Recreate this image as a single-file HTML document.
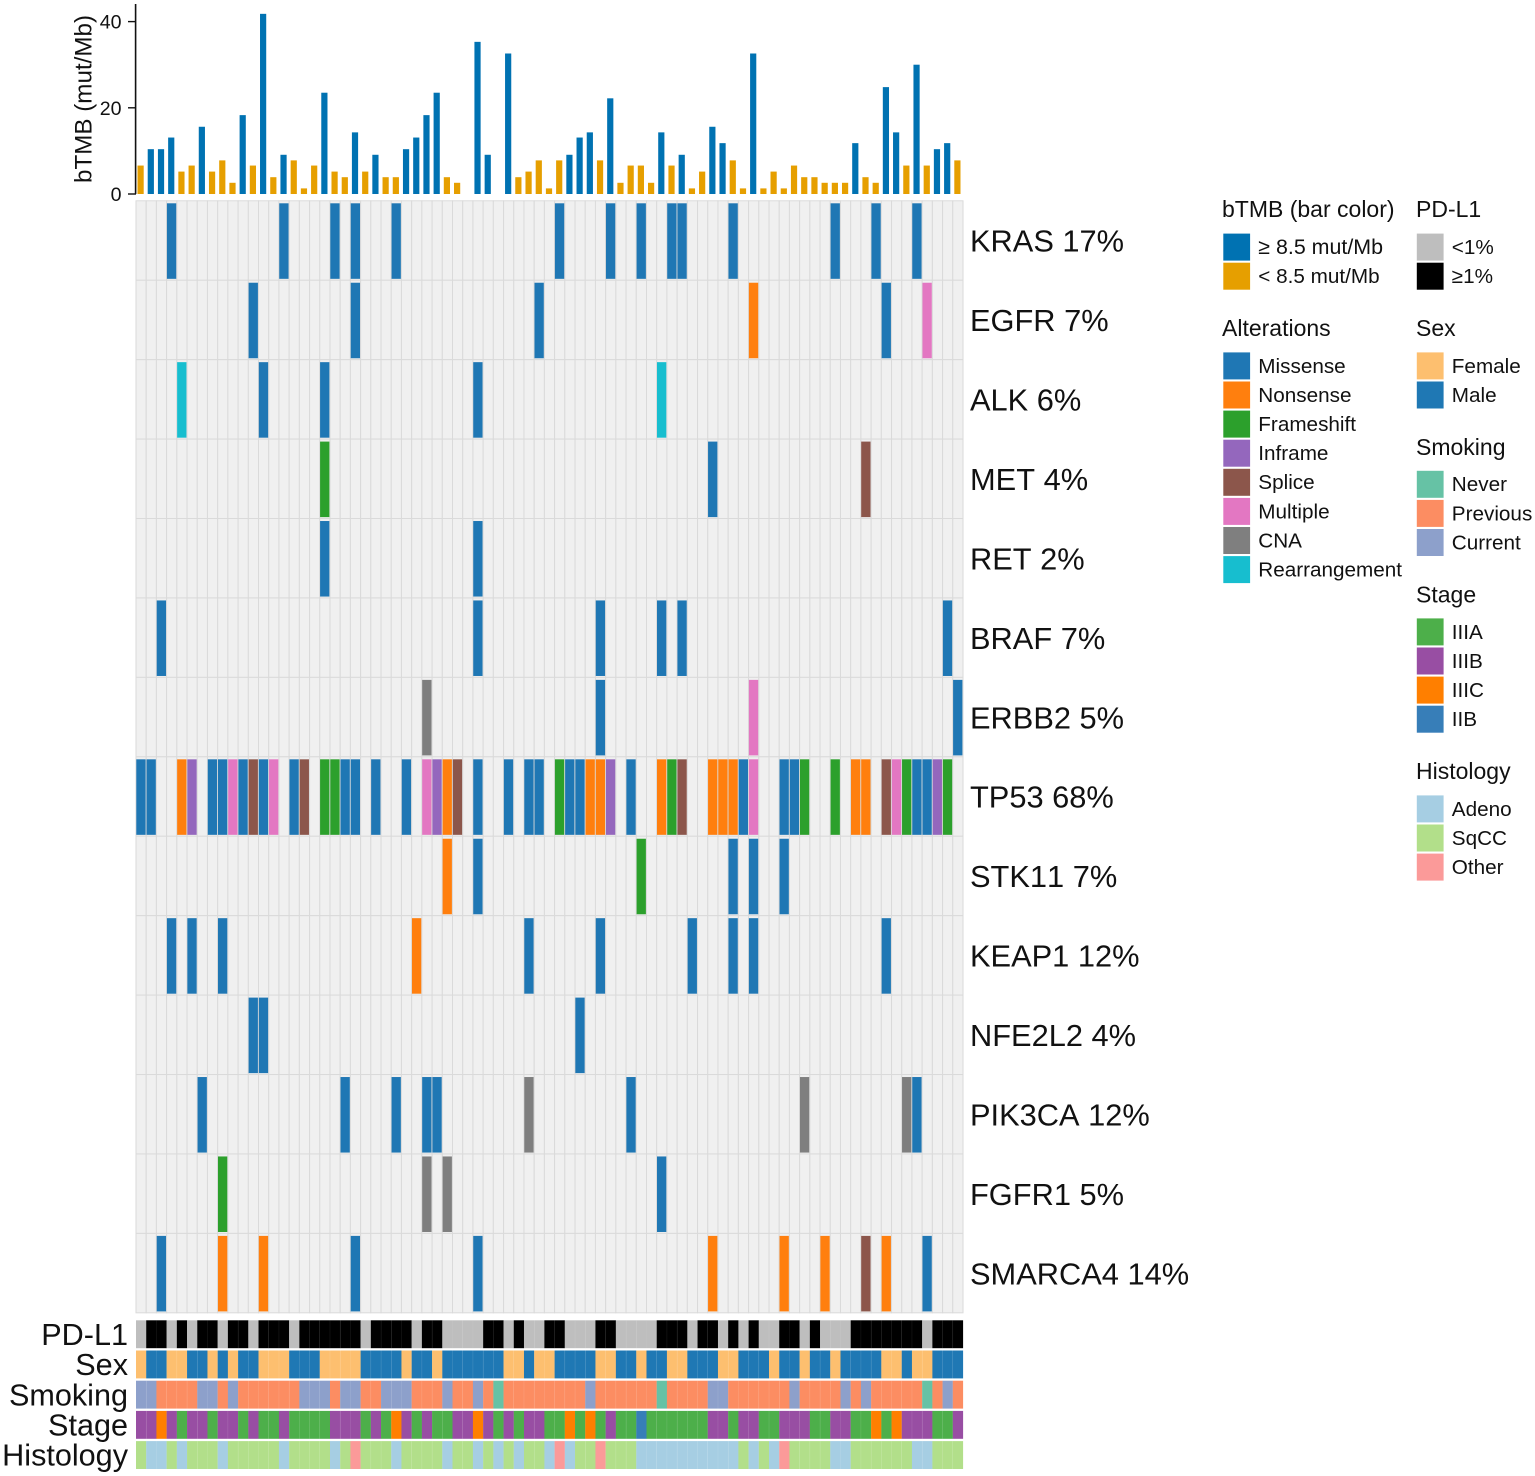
<!DOCTYPE html>
<html lang="en">
<head>
<meta charset="utf-8">
<title>Oncoprint of bTMB and gene alterations</title>
<style>
html,body{margin:0;padding:0;background:#fff;}
#chart{display:block;width:1535px;height:1476px;filter:blur(0.35px);}
text{font-family:"Liberation Sans",sans-serif;fill:#111;font-kerning:none;}
</style>
</head>
<body>
<svg id="chart" xmlns="http://www.w3.org/2000/svg" width="1535" height="1476" viewBox="0 0 1535 1476"></svg>
<script>
// ---------- bTMB bar data (mut/Mb), one value per sample ----------
const tmbValues = [6.6,10.4,10.4,13.1,5.2,6.6,15.6,5.2,7.8,2.6,
  18.3,6.6,41.8,3.9,9.1,7.8,1.3,6.6,23.5,5.2,
  3.9,14.3,5.2,9.1,3.9,3.9,10.4,13.1,18.3,23.5,
  3.9,2.6,0,35.3,9.1,0,32.6,3.9,5.2,7.8,
  1.3,7.8,9.1,13.1,14.3,7.8,22.2,2.6,6.6,6.6,
  2.6,14.3,6.6,9.1,1.3,5.2,15.6,11.8,7.8,1.3,
  32.6,1.3,5.2,1.3,6.6,3.9,3.9,2.6,2.6,2.6,
  11.8,3.9,2.6,24.8,14.3,6.6,30,6.6,10.4,11.8,7.8];
const tmbTicks = [0,20,40];
const tmbThreshold = 8.5;

// ---------- gene alterations: [sample index, alteration type] ----------
const M='Missense',N='Nonsense',F='Frameshift',I='Inframe',S='Splice',U='Multiple',C='CNA',R='Rearrangement';
const geneNames = ['KRAS','EGFR','ALK','MET','RET','BRAF','ERBB2','TP53','STK11','KEAP1','NFE2L2','PIK3CA','FGFR1','SMARCA4'];
const genePercents = [17,7,6,4,2,7,5,68,7,12,4,12,5,14];
const altKRAS = [[3,M],[14,M],[19,M],[21,M],[25,M],[41,M],[46,M],[49,M],[52,M],[53,M],[58,M],[68,M],[72,M],[76,M]];
const altEGFR = [[11,M],[21,M],[39,M],[60,N],[73,M],[77,U]];
const altALK = [[4,R],[12,M],[18,M],[33,M],[51,R]];
const altMET = [[18,F],[56,M],[71,S]];
const altRET = [[18,M],[33,M]];
const altBRAF = [[2,M],[33,M],[45,M],[51,M],[53,M],[79,M]];
const altERBB2 = [[28,C],[45,M],[60,U],[80,M]];
const altTP53 = [[0,M],[1,M],[4,N],[5,I],[7,M],[8,M],[9,U],[10,M],[11,S],[12,M],[13,U],[15,M],[16,S],[18,F],[19,F],[20,M],[21,M],[23,M],[26,M],[28,U],[29,I],[30,N],[31,S],[33,M],[36,M],[38,M],[39,M],
  [41,F],[42,M],[43,M],[44,N],[45,N],[46,I],[48,M],[51,N],[52,F],[53,S],[56,N],[57,N],[58,N],[59,M],[60,U],[63,M],[64,M],[65,F],[68,F],[70,N],[71,N],[73,S],[74,U],[75,F],[76,M],[77,M],[78,I],[79,F]];
const altSTK11 = [[30,N],[33,M],[49,F],[58,M],[60,M],[63,M]];
const altKEAP1 = [[3,M],[5,M],[8,M],[27,N],[38,M],[45,M],[54,M],[58,M],[60,M],[73,M]];
const altNFE2L2 = [[11,M],[12,M],[43,M]];
const altPIK3CA = [[6,M],[20,M],[25,M],[28,M],[29,M],[38,C],[48,M],[65,C],[75,C],[76,M]];
const altFGFR1 = [[8,F],[28,C],[30,C],[51,M]];
const altSMARCA4 = [[2,M],[8,N],[12,N],[21,M],[33,M],[56,N],[63,N],[67,N],[71,S],[73,N],[77,M]];
const geneAlterations = [altKRAS,altEGFR,altALK,altMET,altRET,altBRAF,altERBB2,altTP53,altSTK11,altKEAP1,altNFE2L2,altPIK3CA,altFGFR1,altSMARCA4];

// ---------- clinical annotation tracks, one code per sample ----------
const trackNames = ['PD-L1','Sex','Smoking','Stage','Histology'];
const trackPDL1 = ('0110101101'+'1011101111'+'1101111011'+'0000110100'+'1100011000'+'0111011010'+'1001101000'+'11111110111').split('');
const trackSex = ('FMMFFMMFMF'+'MMFFFMMMFF'+'FFMMMMFMMF'+'MMMMMMFFMF'+'FMMMMFFMMF'+'MMFFMMMFFM'+'MMFMMFMMFM'+'MMMFFMFFMMM').split('');
const trackSmoking = ('CCPPPPCCPC'+'PPPPPPCCCP'+'CCPPCCCPPP'+'CPPCPNPPPP'+'PPPPCPPPPP'+'PNPPPPCCPP'+'PPPPCPPPPC'+'PCPPPPPNPCP').split('');
const trackStage = ('BBCBABBABB'+'ABAABAAAAB'+'BBABACBABA'+'ABBCBABABB'+'AACACABAAD'+'AAAAAABBAB'+'BAABBBAABB'+'AACACBBBAAB').split('');
const trackHistology = ('SAASASSSAS'+'SSSSASSSSA'+'SOSSSASSSS'+'ASSASASASS'+'AOASSOSSSA'+'AAAAAAAAAS'+'ASAOSSSSAA'+'SSSSSSAASSS').split('');
const trackValues = [trackPDL1,trackSex,trackSmoking,trackStage,trackHistology];

// ---------- colours ----------
const alterationColors = {Missense:'#1f77b4',Nonsense:'#ff7f0e',Frameshift:'#2ca02c',Inframe:'#9467bd',Splice:'#8c564b',Multiple:'#e377c2',CNA:'#7f7f7f',Rearrangement:'#17becf'};
const tmbHighColor = '#0072b2';
const tmbLowColor = '#e69f00';
const trackColors = [
  {'0':'#bebebe','1':'#000000'},
  {F:'#fdbf6f',M:'#1f78b4'},
  {N:'#66c2a5',P:'#fc8d62',C:'#8da0cb'},
  {A:'#4daf4a',B:'#984ea3',C:'#ff7f00',D:'#377eb8'},
  {A:'#a6cee3',S:'#b2df8a',O:'#fb9a99'}
];

// ---------- axis functions ----------
const sampleCount = tmbValues.length;
const plotLeft = 136, plotRight = 963;
const colW = (plotRight - plotLeft) / sampleCount;
function xScale(i){ return plotLeft + colW * i; }
const tmbZero = 194, tmbUnit = 4.31;
function yTmb(v){ return tmbZero - v * tmbUnit; }
const rowTop = 200.8, rowH = 79.43;
function yGene(r){ return rowTop + rowH * r; }
const trackTop = 1320.3, trackPitch = 30.2, trackH = 27.9;
function yTrack(r){ return trackTop + trackPitch * r; }

const NS = 'http://www.w3.org/2000/svg';
const svg = document.getElementById('chart');
function mk(tag, attrs, parent){
  const el = document.createElementNS(NS, tag);
  for (const k in attrs) el.setAttribute(k, attrs[k]);
  (parent || svg).appendChild(el);
  return el;
}
function slug(s){ return String(s).toLowerCase().replace(/[^a-z0-9]+/g,'-').replace(/^-|-$/g,''); }

// ---------- bTMB panel ----------
const tmbAxisLine = mk('line',{x1:135.6,x2:135.6,y1:4,y2:tmbZero,stroke:'#111','stroke-width':1.6});


tmbTicks.forEach(function(t){
  const tick = mk('line',{x1:128,x2:136,y1:yTmb(t),y2:yTmb(t),stroke:'#111','stroke-width':1.4});
  
  
  const lab = mk('text',{x:121.5,y:yTmb(t)+7,'text-anchor':'end','font-size':19.6});
  lab.textContent = t;
  
  
});
const tmbTitle = mk('text',{transform:'translate(91.5,99) rotate(-90)','text-anchor':'middle','font-size':24.2});
tmbTitle.textContent = 'bTMB (mut/Mb)';


tmbValues.forEach(function(v,i){
  if (v <= 0) return;
  const bar = mk('rect',{x:xScale(i)+1.5,y:yTmb(v),width:6.2,height:tmbZero-yTmb(v),fill:v>=tmbThreshold?tmbHighColor:tmbLowColor});
  
  
});

// ---------- alteration heatmap ----------
geneNames.forEach(function(g,r){
  for (let i=0;i<sampleCount;i++){
    const cell = mk('rect',{x:xScale(i),y:yGene(r),width:colW,height:rowH,fill:'#f0f0f0',stroke:'#dadada','stroke-width':1});
    
    
  }
});
geneNames.forEach(function(g,r){
  geneAlterations[r].forEach(function(a){
    const mark = mk('rect',{x:xScale(a[0])+0.3,y:yGene(r)+2.5,width:colW-0.9,height:rowH-3.9,fill:alterationColors[a[1]]});
    
    
  });
  const lab = mk('text',{x:970,y:yGene(r)+rowH/2+11.2,'font-size':30.8});
  lab.textContent = g+' '+genePercents[r]+'%';
  
  
});

// ---------- annotation tracks ----------
trackNames.forEach(function(name,r){
  trackValues[r].forEach(function(code,i){
    const cell = mk('rect',{x:xScale(i),y:yTrack(r),width:colW+0.1,height:trackH,fill:trackColors[r][code]});
    
    
  });
  for (let i=1;i<sampleCount;i++){
    if (trackValues[r][i]===trackValues[r][i-1]){
      const sep = mk('rect',{x:xScale(i)-0.25,y:yTrack(r),width:0.5,height:trackH,fill:'#ffffff','fill-opacity':r===0?0.12:0.18});
      
      
    }
  }
  const lab = mk('text',{x:128,y:yTrack(r)+24.6,'text-anchor':'end','font-size':30.6});
  lab.textContent = name;
  
  
});

// ---------- legends ----------
const legendTitles = ['bTMB (bar color)','Alterations','PD-L1','Sex','Smoking','Stage','Histology'];
const legendTitleX = [1222,1222,1416,1416,1416,1416,1416];
const legendTitleY = [217,336,217,336,455,602.5,779];
const legendKeyX = [1223.3,1223.3,1416.8,1416.8,1416.8,1416.8,1416.8];
const legendKeyY = [233.6,352.4,233.6,352.4,470.8,618.4,795.4];
const legendLabels = [
  ['\u2265 8.5 mut/Mb','< 8.5 mut/Mb'],
  ['Missense','Nonsense','Frameshift','Inframe','Splice','Multiple','CNA','Rearrangement'],
  ['<1%','\u22651%'],
  ['Female','Male'],
  ['Never','Previous','Current'],
  ['IIIA','IIIB','IIIC','IIB'],
  ['Adeno','SqCC','Other']
];
const legendColors = [
  [tmbHighColor,tmbLowColor],
  ['#1f77b4','#ff7f0e','#2ca02c','#9467bd','#8c564b','#e377c2','#7f7f7f','#17becf'],
  ['#bebebe','#000000'],
  ['#fdbf6f','#1f78b4'],
  ['#66c2a5','#fc8d62','#8da0cb'],
  ['#4daf4a','#984ea3','#ff7f00','#377eb8'],
  ['#a6cee3','#b2df8a','#fb9a99']
];
const legendPitch = 29.1;
legendTitles.forEach(function(t,g){
  const title = mk('text',{x:legendTitleX[g],y:legendTitleY[g],'font-size':23});
  title.textContent = t;
  
  
  legendLabels[g].forEach(function(l,i){
    const ky = legendKeyY[g]+legendPitch*i;
    const key = mk('rect',{x:legendKeyX[g],y:ky,width:26.8,height:27,fill:legendColors[g][i]});
    
    
    const lab = mk('text',{x:legendKeyX[g]+35,y:ky+20.4,'font-size':g===0&&i===0?21.4:20.7});
    lab.textContent = l;
    
    
  });
});
</script>
</body>
</html>
